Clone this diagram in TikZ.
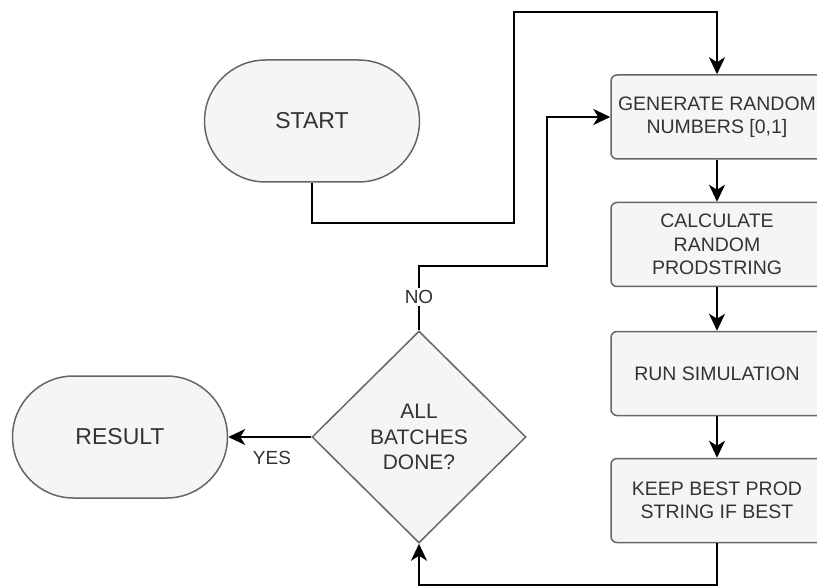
\documentclass[tikz,border=0pt]{standalone}
\usepackage{fontspec}
\setmainfont{Liberation Sans}
\usetikzlibrary{arrows.meta}
\usetikzlibrary{shapes.geometric}
\usetikzlibrary{shapes.misc}

\definecolor{shapefill}{HTML}{F5F5F5}
\definecolor{shapeline}{HTML}{666666}
\definecolor{textgray}{HTML}{333333}

\tikzset{
    shapebase/.style={draw=shapeline, fill=shapefill, line width=1.5pt, text=textgray, inner sep=0pt, align=center},
    terminal/.style={shapebase, rounded rectangle, minimum width=215pt, minimum height=122pt, font=\fontsize{23}{27.6}\selectfont},
    stepbox/.style={shapebase, rounded corners=6pt, minimum width=212pt, minimum height=84pt, font=\fontsize{19.5}{23.4}\selectfont},
    decision/.style={shapebase, diamond, aspect=1, minimum width=214pt, minimum height=212pt, font=\fontsize{21}{25.2}\selectfont},
    flow/.style={line width=2pt, ->},
    flowlabel/.style={text=textgray, fill=white, inner sep=2pt, font=\fontsize{19}{22.8}\selectfont}
}

\begin{document}
\begin{tikzpicture}[x=1pt, y=-1pt, >={Stealth[length=17pt, width=16pt, inset=5pt]}]

    \useasboundingbox (0,0) rectangle (817,588);

    % Coordenadas dos desvios
    \def\Xa{514}    % subida da linha do START
    \def\Xb{547}    % subida da linha do NO
    \def\Ytop{12}   % topo da figura

    % Terminais
    \node[terminal] (start) at (312,121) {START};
    \node[terminal] (result) at (120,437) {RESULT};

    % Passos a direita
    \node[stepbox] (gen) at (717,117) {GENERATE RANDOM\\NUMBERS [0,1]};
    \node[stepbox] (calc) at (717,244.5) {CALCULATE\\RANDOM\\PRODSTRING};
    \node[stepbox] (sim) at (717,373.5) {RUN SIMULATION};
    \node[stepbox] (keep) at (717,500.5) {KEEP BEST PROD\\STRING IF BEST};

    % Decisao
    \node[decision] (done) at (419,437) {ALL\\BATCHES\\DONE?};

    % Ligacoes
    \draw[flow] (start.south) |- (\Xa,223) -- (\Xa,\Ytop) -| (gen.north);
    \draw[flow] (gen) -- (calc);
    \draw[flow] (calc) -- (sim);
    \draw[flow] (sim) -- (keep);
    \draw[flow] (keep.south) -- ++(0,42) -| (done.south);
    \draw[flow] (done.north) |- (\Xb,266) |- (gen.west);
    \draw[flow] (done.west) -- (result.east);

    % Rotulos
    \node[flowlabel] (nolabel) at (419,297) {NO};
    \node[flowlabel] (yeslabel) at (272,458) {YES};

\end{tikzpicture}
\end{document}
